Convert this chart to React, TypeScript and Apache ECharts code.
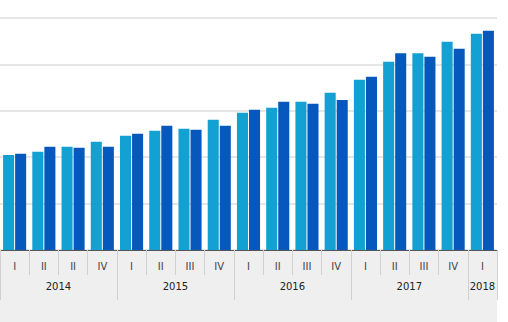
import React, { useEffect, useRef } from "react";
import * as echarts from "echarts";

const quarterLabels = ["I", "II", "II", "IV", "I", "II", "III", "IV", "I", "II", "III", "IV", "I", "II", "III", "IV", "I"];
const yearLabels = ["2014", "2015", "2016", "2017", "2018"];
const yearSpans = [4, 4, 4, 4, 1];
const seriesA = [102.4, 105.9, 111.3, 116.7, 123.2, 128.6, 130.7, 140.4, 148.0, 153.3, 159.8, 169.5, 183.5, 202.9, 212.0, 224.5, 233.1];
const seriesB = [103.8, 111.3, 110.2, 111.3, 125.3, 133.9, 129.6, 133.9, 151.2, 159.8, 157.7, 161.6, 186.7, 212.0, 208.3, 216.9, 236.3];

export default function App() {
  const ref = useRef<HTMLDivElement>(null);
  useEffect(() => {
    if (!ref.current) return;
    const chart = echarts.init(ref.current, null, { renderer: "svg" });
    const bounds: number[] = [0];
    const centers: number[] = [];
    let acc = 0;
    yearSpans.forEach((s) => {
      centers.push(acc + s / 2);
      acc += s;
      bounds.push(acc);
    });
    const total = acc;
    chart.setOption({
      animation: false,
      graphic: [
        {
          type: "rect",
          z: -10,
          shape: { x: 0, y: 251, width: 497, height: 71 },
          style: { fill: "#efefef" },
        },
      ],
      grid: { left: 0, right: 11, top: 18, bottom: 72, containLabel: false },
      xAxis: [
        {
          type: "category",
          data: quarterLabels,
          position: "bottom",
          axisLine: { show: true, lineStyle: { color: "#555", width: 1 } },
          axisTick: { show: true, interval: 0, length: 25, lineStyle: { color: "#d0d0d0" } },
          axisLabel: { interval: 0, margin: 11, fontSize: 10, fontFamily: "DejaVu Sans", color: "#444" },
          splitLine: { show: false },
        },
        {
          type: "value",
          min: 0,
          max: total,
          position: "bottom",
          axisLine: { show: false },
          splitLine: { show: false },
          axisTick: { show: true, length: 50, customValues: bounds, lineStyle: { color: "#d0d0d0" } },
          axisLabel: {
            show: true,
            margin: 31,
            fontSize: 10,
            fontFamily: "DejaVu Sans",
            color: "#222",
            customValues: centers,
            formatter: (v: number) => {
              const i = centers.findIndex((c) => Math.abs(c - v) < 1e-6);
              return i >= 0 ? yearLabels[i] : "";
            },
          },
        },
      ],
      yAxis: {
        type: "value",
        min: 0,
        max: 250,
        interval: 50,
        axisLabel: { show: false },
        axisLine: { show: false },
        axisTick: { show: false },
        splitLine: { show: true, lineStyle: { color: "#e6e6e6", width: 2 } },
      },
      series: [
        {
          type: "bar",
          xAxisIndex: 0,
          data: seriesA,
          itemStyle: { color: "#12a1d2" },
          barCategoryGap: "21%",
          barGap: "9%",
        },
        {
          type: "bar",
          xAxisIndex: 0,
          data: seriesB,
          itemStyle: { color: "#0658bd" },
          barCategoryGap: "21%",
          barGap: "9%",
        },
      ],
    });
    return () => chart.dispose();
  }, []);
  return <div ref={ref} style={{ width: 508, height: 322, position: "absolute", left: 0, top: 0 }} />;
}
